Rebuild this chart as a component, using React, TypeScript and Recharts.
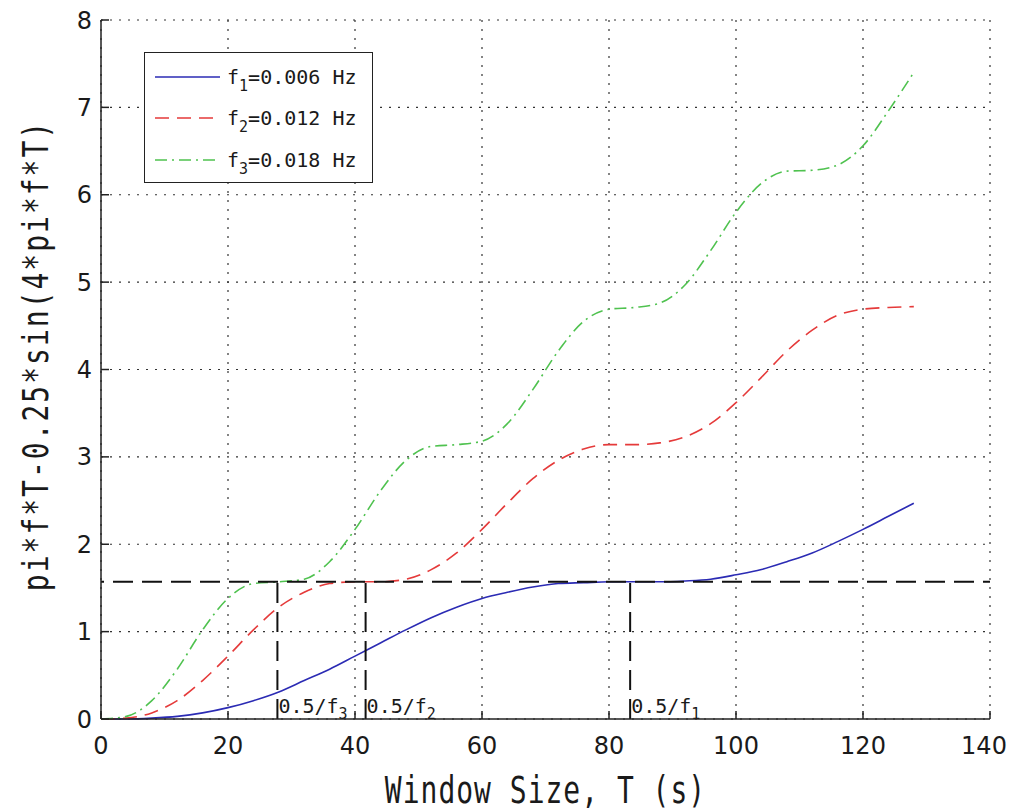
import React from 'react';
import {
  LineChart,
  Line,
  XAxis,
  YAxis,
  CartesianGrid,
  ReferenceLine,
  Legend,
  Label,
} from 'recharts';

// window size T (s)
const T_VALUES = [
  0, 4, 8, 12, 16, 20, 24, 28, 32, 36, 40, 44, 48, 52, 56, 60, 64,
  68, 72, 76, 80, 84, 88, 92, 96, 100, 104, 108, 112, 116, 120, 124, 128,
];

// f1 = 0.006 Hz
const F1_VALUES = [
  0, 0.0, 0.01, 0.03, 0.07, 0.13, 0.21, 0.31, 0.44, 0.57, 0.72, 0.87, 1.02, 1.16, 1.28, 1.38, 1.45,
  1.51, 1.55, 1.56, 1.57, 1.57, 1.57, 1.58, 1.6, 1.65, 1.71, 1.8, 1.9, 2.03, 2.17, 2.32, 2.47,
];

// f2 = 0.012 Hz
const F2_VALUES = [
  0, 0.01, 0.07, 0.21, 0.44, 0.72, 1.02, 1.28, 1.45, 1.55, 1.57, 1.57, 1.6, 1.71, 1.9, 2.17, 2.47,
  2.75, 2.96, 3.09, 3.14, 3.14, 3.16, 3.23, 3.38, 3.62, 3.91, 4.21, 4.45, 4.62, 4.69, 4.71, 4.72,
];

// f3 = 0.018 Hz
const F3_VALUES = [
  0, 0.03, 0.21, 0.57, 1.02, 1.38, 1.55, 1.57, 1.6, 1.8, 2.17, 2.61, 2.96, 3.12, 3.14, 3.18, 3.38,
  3.77, 4.21, 4.55, 4.69, 4.71, 4.76, 4.97, 5.36, 5.8, 6.13, 6.27, 6.28, 6.34, 6.56, 6.96, 7.4,
];

const X_TICKS = [0, 20, 40, 60, 80, 100, 120, 140];
const Y_TICKS = [0, 1, 2, 3, 4, 5, 6, 7, 8];

const HALF_PI = 1.5708;
const MARKERS = [
  { x: 27.78, sub: '3' },
  { x: 41.67, sub: '2' },
  { x: 83.33, sub: '1' },
];

const SERIES = [
  { key: 'f1', sub: '1', freq: '0.006', color: '#2b2bb4', dash: undefined },
  { key: 'f2', sub: '2', freq: '0.012', color: '#e53a3a', dash: '14 8' },
  { key: 'f3', sub: '3', freq: '0.018', color: '#4fc24f', dash: '12 5 2 5' },
];

const data = T_VALUES.map((t, i) => ({
  t,
  f1: F1_VALUES[i],
  f2: F2_VALUES[i],
  f3: F3_VALUES[i],
}));

const MONO = '"DejaVu Sans Mono", monospace';
const SANS = '"DejaVu Sans", sans-serif';
const tickFont = { fontSize: 24, fontFamily: SANS, fill: '#1a1a1a' };
const AXIS = '#222';

// bottom tick label, kept inside the page on the right edge
function XTick(props: any) {
  const { x, y, payload } = props;
  const cx = Math.min(x, 984);
  return (
    <text x={cx} y={y} dy="0.71em" textAnchor="middle" fontSize={24} fontFamily={SANS} fill="#1a1a1a">
      {payload.value}
    </text>
  );
}

function XTitle(props: any) {
  const vb = props.viewBox || {};
  const cx = vb.x + vb.width / 2;
  return (
    <text
      transform={`translate(${cx}, ${vb.y + 71}) scale(1, 1.33)`}
      textAnchor="middle"
      dominantBaseline="central"
      fontFamily={MONO}
      fontSize={28}
      letterSpacing={1}
      fill="#1a1a1a"
    >
      Window Size, T (s)
    </text>
  );
}

function YTitle(props: any) {
  const vb = props.viewBox || {};
  const cy = vb.y + vb.height / 2 - 14;
  return (
    <text
      transform={`translate(36, ${cy}) rotate(-90) scale(1, 1.25)`}
      textAnchor="middle"
      dominantBaseline="central"
      fontFamily={MONO}
      fontSize={28}
      letterSpacing={2}
      fill="#1a1a1a"
    >
      pi*f*T-0.25*sin(4*pi*f*T)
    </text>
  );
}

function markerLabel(sub: string) {
  return (props: any) => {
    const vb = props.viewBox || {};
    return (
      <text x={vb.x + 1} y={vb.y + vb.height - 6} fontFamily={MONO} fontSize={20} fill="#1a1a1a">
        0.5/f
        <tspan fontSize={15} dy={6}>
          {sub}
        </tspan>
      </text>
    );
  };
}

function LegendBox() {
  return (
    <div
      style={{
        width: 229,
        height: 131,
        boxSizing: 'border-box',
        border: `1.5px solid ${AXIS}`,
        background: '#fff',
        paddingTop: 3,
        paddingLeft: 10,
        fontFamily: MONO,
        fontSize: 20,
        color: '#1a1a1a',
      }}
    >
      {SERIES.map((s) => (
        <div key={s.key} style={{ display: 'flex', alignItems: 'center', height: 41.5 }}>
          <svg width={65} height={10}>
            <line x1={0} y1={5} x2={65} y2={5} stroke={s.color} strokeWidth={1.5} strokeDasharray={s.dash} />
          </svg>
          <span style={{ marginLeft: 7, whiteSpace: 'nowrap' }}>
            f
            <span style={{ fontSize: 15, position: 'relative', top: 7 }}>{s.sub}</span>={s.freq} Hz
          </span>
        </div>
      ))}
    </div>
  );
}

export default function App() {
  return (
    <div style={{ position: 'absolute', left: 0, top: 0, background: '#fff' }}>
      <LineChart width={1011} height={812} data={data} margin={{ top: 20, right: 21, bottom: 33, left: 41 }}>
        <CartesianGrid stroke="#333" strokeDasharray="2 7" strokeWidth={1.2} />
        <XAxis
          dataKey="t"
          type="number"
          domain={[0, 140]}
          ticks={X_TICKS}
          height={60}
          tickSize={-8}
          tickMargin={26}
          tick={<XTick />}
          axisLine={{ stroke: AXIS, strokeWidth: 1.5 }}
          tickLine={{ stroke: AXIS, strokeWidth: 1.5 }}
        >
          <Label content={<XTitle />} />
        </XAxis>
        <XAxis
          xAxisId="top"
          orientation="top"
          dataKey="t"
          type="number"
          domain={[0, 140]}
          ticks={X_TICKS}
          height={0}
          tickSize={-8}
          tick={() => null}
          axisLine={{ stroke: AXIS, strokeWidth: 1.5 }}
          tickLine={{ stroke: AXIS, strokeWidth: 1.5 }}
        />
        <YAxis
          type="number"
          domain={[0, 8]}
          ticks={Y_TICKS}
          width={60}
          tickSize={-8}
          tickMargin={17}
          tick={tickFont}
          axisLine={{ stroke: AXIS, strokeWidth: 1.5 }}
          tickLine={{ stroke: AXIS, strokeWidth: 1.5 }}
        >
          <Label content={<YTitle />} />
        </YAxis>
        <YAxis
          yAxisId="right"
          orientation="right"
          type="number"
          domain={[0, 8]}
          ticks={Y_TICKS}
          width={0}
          tickSize={-8}
          tick={() => null}
          axisLine={{ stroke: AXIS, strokeWidth: 1.5 }}
          tickLine={{ stroke: AXIS, strokeWidth: 1.5 }}
        />
        <Legend
          layout="horizontal"
          verticalAlign="middle"
          align="center"
          content={<LegendBox />}
          wrapperStyle={{ position: 'absolute', left: 144, top: 52, width: 229, height: 131 }}
        />
        {SERIES.map((s) => (
          <Line
            key={s.key}
            type="monotone"
            dataKey={s.key}
            stroke={s.color}
            strokeWidth={1.6}
            strokeDasharray={s.dash}
            dot={false}
            activeDot={false}
            isAnimationActive={false}
          />
        ))}
        <ReferenceLine
          segment={[
            { x: 0, y: HALF_PI },
            { x: 140, y: HALF_PI },
          ]}
          stroke="#111"
          strokeWidth={2}
          strokeDasharray="20 9"
          strokeDashoffset={-12}
        />
        {MARKERS.map((m) => (
          <ReferenceLine
            key={m.sub}
            segment={[
              { x: m.x, y: 0 },
              { x: m.x, y: HALF_PI },
            ]}
            stroke="#111"
            strokeWidth={2}
            strokeDasharray="20 9"
            label={markerLabel(m.sub)}
          />
        ))}
      </LineChart>
    </div>
  );
}
